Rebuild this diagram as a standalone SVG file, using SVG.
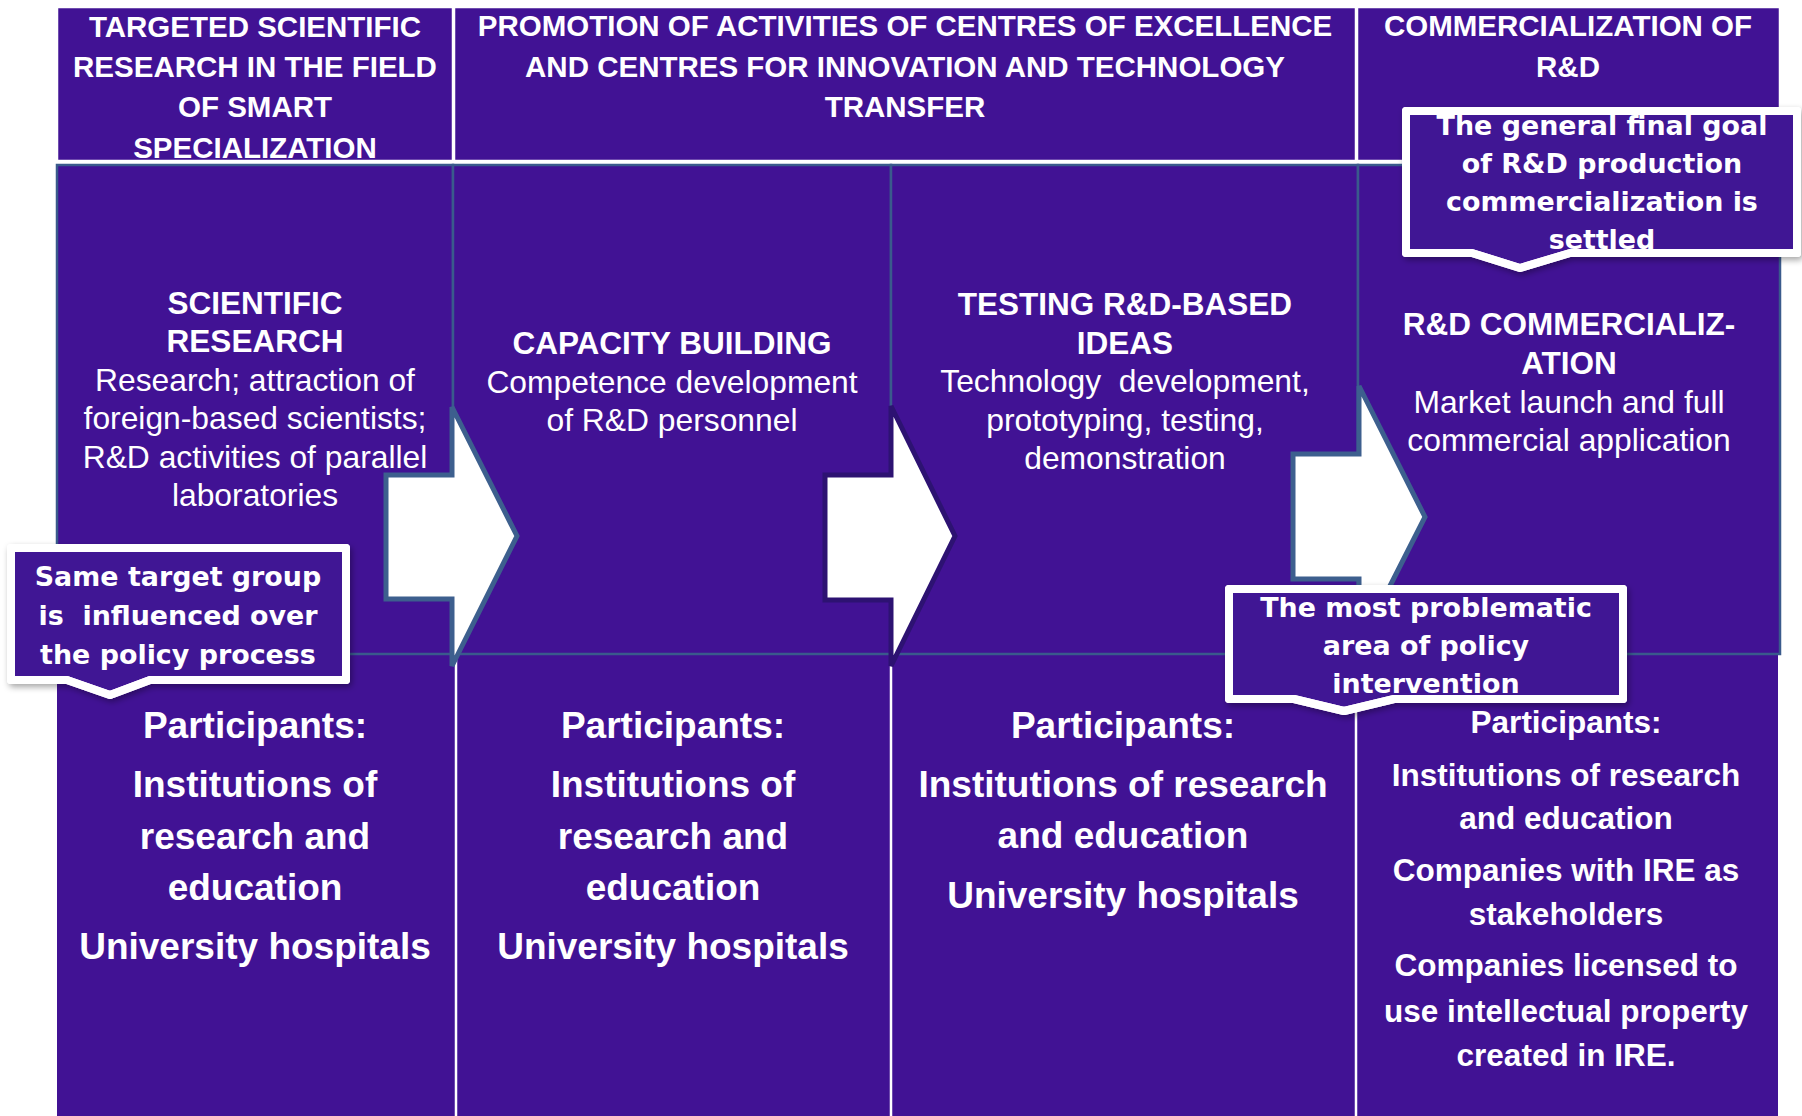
<svg xmlns="http://www.w3.org/2000/svg" width="1802" height="1116" viewBox="0 0 1802 1116">
<style>
.bg{fill:#ffffff}
.cell{fill:#411294}
.hdr-cell{fill:#411294;stroke:#ffffff;stroke-width:2.5}
.stage{fill:#411294;stroke:#3a5a8c;stroke-width:2.5}
.div{stroke:#ffffff;stroke-width:2.5}
text{fill:#ffffff;text-anchor:middle;font-family:"Liberation Sans",Arial,sans-serif}
.hdr{font-size:29.5px;font-weight:bold}
.sb{font-size:31.5px;font-weight:bold}
.sr{font-size:31.8px;font-weight:normal}
.pt{font-size:37px;font-weight:bold}
.pt4{font-size:31.5px;font-weight:bold}
.co{font-family:"DejaVu Sans","Liberation Sans",sans-serif;font-size:26.9px;font-weight:bold}
.pre{white-space:pre}
.arr-a{fill:#ffffff;stroke:#3d5f8e;stroke-width:5;stroke-linejoin:miter}
.arr-b{fill:#ffffff;stroke:#2d1272;stroke-width:5;stroke-linejoin:miter}
.co-fill{fill:#411294}
.co-line{fill:none;stroke:#ffffff;stroke-width:8;stroke-linejoin:round}
</style>
<defs>
<filter id="shadow" x="-10%" y="-10%" width="120%" height="130%">
<feDropShadow dx="2" dy="3" stdDeviation="3" flood-color="#000000" flood-opacity="0.35"/>
</filter>
</defs>
<rect class="bg" x="0" y="0" width="1802" height="1116"/>

<!-- Header row -->
<g id="header-smart-specialization">
<rect class="hdr-cell" x="57" y="7" width="396" height="154"/>
<text class="hdr" x="255" y="37">TARGETED SCIENTIFIC</text>
<text class="hdr" x="255" y="77">RESEARCH IN THE FIELD</text>
<text class="hdr" x="255" y="117">OF SMART</text>
<text class="hdr" x="255" y="158">SPECIALIZATION</text>
</g>
<g id="header-centres">
<rect class="hdr-cell" x="454" y="7" width="902" height="154"/>
<text class="hdr" x="905" y="36">PROMOTION OF ACTIVITIES OF CENTRES OF EXCELLENCE</text>
<text class="hdr" x="905" y="77">AND CENTRES FOR INNOVATION AND TECHNOLOGY</text>
<text class="hdr" x="905" y="117">TRANSFER</text>
</g>
<g id="header-commercialization">
<rect class="hdr-cell" x="1357" y="7" width="423" height="154"/>
<text class="hdr" x="1568" y="36">COMMERCIALIZATION OF</text>
<text class="hdr" x="1568" y="77">R&amp;D</text>
</g>

<!-- Participants row -->
<g id="participants-1">
<rect class="cell" x="57" y="654" width="399" height="462"/>
<text class="pt" x="255" y="738">Participants:</text>
<text class="pt" x="255" y="797">Institutions of</text>
<text class="pt" x="255" y="849">research and</text>
<text class="pt" x="255" y="900">education</text>
<text class="pt" x="255" y="959">University hospitals</text>
</g>
<g id="participants-2">
<rect class="cell" x="456" y="654" width="435" height="462"/>
<text class="pt" x="673" y="738">Participants:</text>
<text class="pt" x="673" y="797">Institutions of</text>
<text class="pt" x="673" y="849">research and</text>
<text class="pt" x="673" y="900">education</text>
<text class="pt" x="673" y="959">University hospitals</text>
</g>
<g id="participants-3">
<rect class="cell" x="891" y="654" width="465" height="462"/>
<text class="pt" x="1123" y="738">Participants:</text>
<text class="pt" x="1123" y="797">Institutions of research</text>
<text class="pt" x="1123" y="848">and education</text>
<text class="pt" x="1123" y="908">University hospitals</text>
</g>
<g id="participants-4">
<rect class="cell" x="1356" y="654" width="422" height="462"/>
<text class="pt4" x="1566" y="733">Participants:</text>
<text class="pt4" x="1566" y="786">Institutions of research</text>
<text class="pt4" x="1566" y="829">and education</text>
<text class="pt4" x="1566" y="881">Companies with IRE as</text>
<text class="pt4" x="1566" y="925">stakeholders</text>
<text class="pt4" x="1566" y="976">Companies licensed to</text>
<text class="pt4" x="1566" y="1022">use intellectual property</text>
<text class="pt4" x="1566" y="1066">created in IRE.</text>
</g>
<g id="participant-dividers">
<line class="div" x1="456" y1="655" x2="456" y2="1116"/>
<line class="div" x1="891" y1="655" x2="891" y2="1116"/>
<line class="div" x1="1356" y1="655" x2="1356" y2="1116"/>
</g>

<!-- Stage row -->
<g id="stage-scientific-research">
<rect class="stage" x="57" y="165" width="396" height="489"/>
<text class="sb" x="255" y="314">SCIENTIFIC</text>
<text class="sb" x="255" y="352">RESEARCH</text>
<text class="sr" x="255" y="391">Research; attraction of</text>
<text class="sr" x="255" y="429">foreign-based scientists;</text>
<text class="sr" x="255" y="468">R&amp;D activities of parallel</text>
<text class="sr" x="255" y="506">laboratories</text>
</g>
<g id="stage-capacity-building">
<rect class="stage" x="453" y="165" width="438" height="489"/>
<text class="sb" x="672" y="354">CAPACITY BUILDING</text>
<text class="sr" x="672" y="393">Competence development</text>
<text class="sr" x="672" y="431">of R&amp;D personnel</text>
</g>
<g id="stage-testing">
<rect class="stage" x="891" y="165" width="467" height="489"/>
<text class="sb" x="1125" y="315">TESTING R&amp;D-BASED</text>
<text class="sb" x="1125" y="354">IDEAS</text>
<text class="sr pre" x="1125" y="392">Technology  development,</text>
<text class="sr" x="1125" y="431">prototyping, testing,</text>
<text class="sr" x="1125" y="469">demonstration</text>
</g>
<g id="stage-commercialization">
<rect class="stage" x="1358" y="165" width="422" height="489"/>
<text class="sb" x="1569" y="335">R&amp;D COMMERCIALIZ-</text>
<text class="sb" x="1569" y="374">ATION</text>
<text class="sr" x="1569" y="413">Market launch and full</text>
<text class="sr" x="1569" y="451">commercial application</text>
</g>

<!-- Connectors: block arrows -->
<g id="connectors">
<polygon id="arrow-1" class="arr-a" points="386,475 452,475 452,407 517,536 452,666 452,599 386,599"/>
<polygon id="arrow-2" class="arr-b" points="825,475 891,475 891,406 955,536 891,666 891,600 825,600"/>
<polygon id="arrow-3" class="arr-a" points="1293,454 1359,454 1359,386 1425,517 1359,647 1359,579 1293,579"/>
</g>

<!-- Callouts -->
<g id="callout-same-target">
<path class="co-line" filter="url(#shadow)" d="M11,548 H346 V680 H150 L110,695 L67,680 H11 Z" style="fill:#411294"/>
<text class="co" x="178" y="586">Same target group</text>
<text class="co pre" x="178" y="625">is  influenced over</text>
<text class="co" x="178" y="664">the policy process</text>
<path class="co-line" d="M11,548 H346 V680 H150 L110,695 L67,680 H11 Z"/>
</g>
<g id="callout-final-goal">
<path class="co-line" filter="url(#shadow)" d="M1406,111 H1797 V253 H1570 L1520,268 L1472,253 H1406 Z" style="fill:#411294"/>
<text class="co" x="1602" y="135">The general final goal</text>
<text class="co" x="1602" y="173">of R&amp;D production</text>
<text class="co" x="1602" y="211">commercialization is</text>
<text class="co" x="1602" y="249">settled</text>
<path class="co-line" d="M1406,111 H1797 V253 H1570 L1520,268 L1472,253 H1406 Z"/>
</g>
<g id="callout-problematic">
<path class="co-line" filter="url(#shadow)" d="M1229,589 H1623 V699 H1394 L1344,711 L1294,699 H1229 Z" style="fill:#411294"/>
<text class="co" x="1426" y="617">The most problematic</text>
<text class="co" x="1426" y="655">area of policy</text>
<text class="co" x="1426" y="693">intervention</text>
<path class="co-line" d="M1229,589 H1623 V699 H1394 L1344,711 L1294,699 H1229 Z"/>
</g>
</svg>
